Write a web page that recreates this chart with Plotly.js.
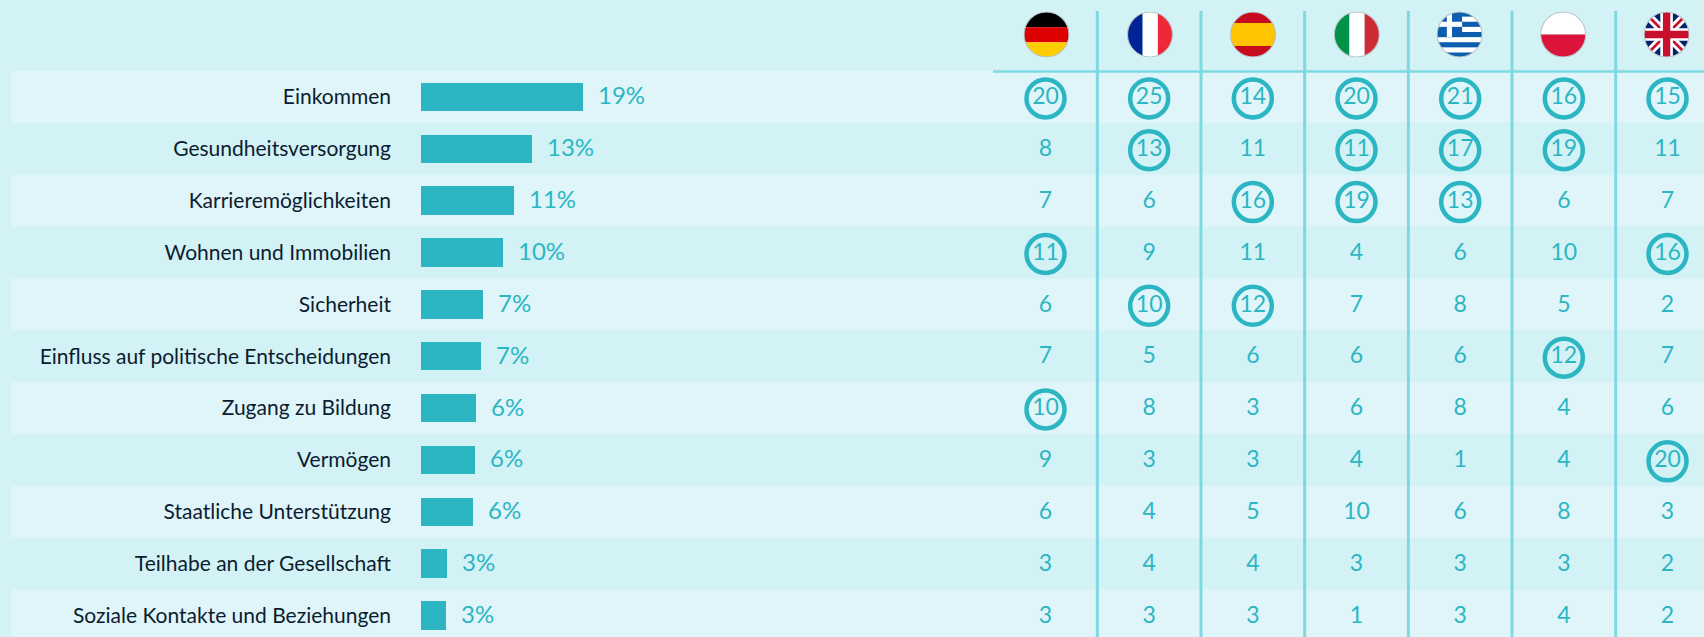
<!DOCTYPE html>
<html><head><meta charset="utf-8">
<script src="https://cdn.plot.ly/plotly-3.0.1.min.js"></script>
<style>html,body{margin:0;padding:0;background:#d2f2f5;overflow:hidden}#c{width:1704px;height:637px}</style>
</head><body><div id="c"></div>
<script>
const categories = ["Einkommen","Gesundheitsversorgung","Karrieremöglichkeiten","Wohnen und Immobilien","Sicherheit","Einfluss auf politische Entscheidungen","Zugang zu Bildung","Vermögen","Staatliche Unterstützung","Teilhabe an der Gesellschaft","Soziale Kontakte und Beziehungen"];
const totalBars = [19.0,13.0,10.9,9.7,7.3,7.0,6.5,6.3,6.1,3.0,2.9];
const totalLabels = ["19%","13%","11%","10%","7%","7%","6%","6%","6%","3%","3%"];
const countries = ["Deutschland","Frankreich","Spanien","Italien","Griechenland","Polen","Vereinigtes Königreich"];
const germany = [20,8,7,11,6,7,10,9,6,3,3];
const france  = [25,13,6,9,10,5,8,3,4,4,3];
const spain   = [14,11,16,11,12,6,3,3,5,4,3];
const italy   = [20,11,19,4,7,6,6,4,10,3,1];
const greece  = [21,17,13,6,8,6,8,1,6,3,3];
const poland  = [16,19,6,10,5,12,4,4,8,3,4];
const uk      = [15,11,7,16,2,7,6,20,3,2,2];
const columns = [germany,france,spain,italy,greece,poland,uk];

const W=1704,H=637,PL=421;
const TEAL='#2cb6c3',DARK='#0c1c30',LINE='#7ed9e1',BG='#d2f2f5',LIGHT='#dff5f9';
const FONT='Lato, sans-serif';
const rowH=51.85,rowTop=71,colX0=1045.5,colW=103.67,pxPerPct=8.5,tableDy=1.5;

const cellX=[],cellY=[],cellT=[],ringX=[],ringY=[];
columns.forEach((col,c)=>{
  const top3=[...col].sort((a,b)=>b-a).slice(0,3);
  col.forEach((v,r)=>{
    cellX.push(countries[c]);cellY.push(categories[r]);cellT.push(String(v));
    if(top3.includes(v)){ringX.push(countries[c]);ringY.push(categories[r]);}
  });
});

const traces=[
 {type:'bar',orientation:'h',x:totalBars,y:categories,width:0.548,marker:{color:TEAL,line:{width:0}},hoverinfo:'skip',xaxis:'x',yaxis:'y'},
 {type:'scatter',mode:'markers',x:ringX,y:ringY,xaxis:'x2',yaxis:'y2',hoverinfo:'skip',
  marker:{symbol:'circle-open',size:38,color:TEAL,line:{width:4.5,color:TEAL}}},
 {type:'scatter',mode:'text',x:cellX,y:cellY,text:cellT,xaxis:'x2',yaxis:'y2',hoverinfo:'skip',
  textposition:'middle center',textfont:{family:FONT,size:23,color:TEAL}}
];

const shapes=[];
categories.forEach((_,i)=>{
  if(i%2===0) shapes.push({type:'rect',layer:'below',xref:'paper',yref:'y',
    x0:(11-PL)/(W-PL),x1:1,y0:i-0.5,y1:i+0.5,fillcolor:LIGHT,line:{width:0}});
});
for(let k=0;k<6;k++){
  shapes.push({type:'line',layer:'above',xref:'x2',yref:'paper',x0:k+0.5,x1:k+0.5,y0:0,y1:1-11/H,line:{color:LINE,width:3}});
}
shapes.push({type:'line',layer:'above',xref:'paper',yref:'paper',x0:(993-PL)/(W-PL),x1:1,y0:1-71.5/H,y1:1-71.5/H,line:{color:LINE,width:2.5}});

const flagBody={
 de:'<rect width="44" height="15" fill="#000"/><rect y="15" width="44" height="14.5" fill="#dd0000"/><rect y="29.5" width="44" height="14.5" fill="#ffce00"/>',
 fr:'<rect width="15" height="44" fill="#002395"/><rect x="15" width="14.5" height="44" fill="#fff"/><rect x="29.5" width="14.5" height="44" fill="#ed2939"/>',
 es:'<rect width="44" height="44" fill="#c60b1e"/><rect y="11" width="44" height="22" fill="#ffc400"/>',
 it:'<rect width="15" height="44" fill="#009246"/><rect x="15" width="14.5" height="44" fill="#fff"/><rect x="29.5" width="14.5" height="44" fill="#ce2b37"/>',
 gr:'<rect width="44" height="44" fill="#fff"/>'+[0,9.8,19.6,29.4,39.2].map(y=>`<rect y="${y}" width="44" height="4.9" fill="#0d5eaf"/>`).join('')+'<rect width="24.4" height="24.5" fill="#0d5eaf"/><rect x="9.8" width="4.9" height="24.5" fill="#fff"/><rect y="9.8" width="24.4" height="4.9" fill="#fff"/>',
 pl:'<rect width="44" height="22" fill="#fff"/><rect y="22" width="44" height="22" fill="#dc143c"/>',
 uk:'<rect width="44" height="44" fill="#012169"/><path d="M0 0L44 44M44 0L0 44" stroke="#fff" stroke-width="8"/><path d="M0 0L44 44M44 0L0 44" stroke="#c8102e" stroke-width="2.6"/><path d="M22 0V44M0 22H44" stroke="#fff" stroke-width="12"/><path d="M22 0V44M0 22H44" stroke="#c8102e" stroke-width="7"/>'
};
const flagCodes=['de','fr','es','it','gr','pl','uk'];
const flagCx=[1046.5,1150,1253,1356.8,1459.6,1563.2,1666.6];
const images=flagCodes.map((f,i)=>{
  const svg=`<svg xmlns="http://www.w3.org/2000/svg" width="184" height="184" viewBox="0 0 44 44"><defs><clipPath id="k"><circle cx="22" cy="22" r="21.5"/></clipPath></defs><g clip-path="url(#k)">${flagBody[f]}</g><circle cx="22" cy="22" r="21.5" fill="none" stroke="#b9c4c8" stroke-width="1"/></svg>`;
  return {source:'data:image/svg+xml;base64,'+btoa(svg),xref:'paper',yref:'paper',
    x:(flagCx[i]-23-PL)/(W-PL),y:1-11.5/H,sizex:46/(W-PL),sizey:46/H,xanchor:'left',yanchor:'top',sizing:'stretch',layer:'above'};
});

const annotations=totalBars.map((v,i)=>({xref:'x',yref:'y',x:v,y:categories[i],text:totalLabels[i],showarrow:false,
  xanchor:'left',xshift:13,yshift:2,font:{family:FONT,size:24,color:TEAL}}));

const yRange=[(H-rowTop-rowH/2)/rowH,-(rowTop+rowH/2)/rowH];
const layout={
 width:W,height:H,autosize:false,showlegend:false,paper_bgcolor:BG,plot_bgcolor:'rgba(0,0,0,0)',
 margin:{l:PL,r:0,t:0,b:0,pad:0},bargap:0,
 xaxis:{domain:[0,1],range:[0,(W-PL)/pxPerPct],visible:false,fixedrange:true},
 xaxis2:{domain:[0,1],overlaying:'x',anchor:'y',type:'category',categoryarray:countries,categoryorder:'array',
   range:[(PL-colX0)/colW,(W-colX0)/colW],visible:false,fixedrange:true},
 yaxis:{type:'category',categoryarray:categories,categoryorder:'array',range:yRange,
   showgrid:false,zeroline:false,showline:false,ticks:'',
   ticklabelstandoff:29,tickfont:{family:FONT,size:21,color:DARK},fixedrange:true},
 yaxis2:{type:'category',categoryarray:categories,categoryorder:'array',overlaying:'y',anchor:'x2',
   range:yRange.map(v=>v-tableDy/rowH),visible:false,fixedrange:true},
 shapes,images,annotations
};
Plotly.newPlot('c',traces,layout,{displayModeBar:false,staticPlot:true});
</script></body></html>
